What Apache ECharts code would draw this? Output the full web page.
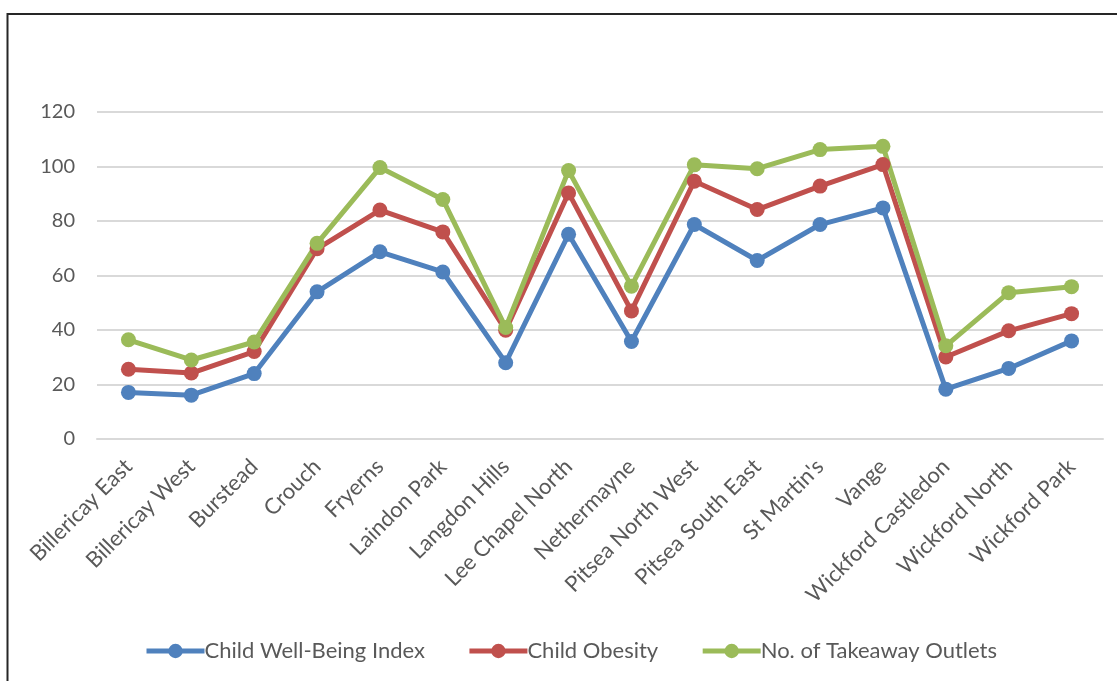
<!DOCTYPE html>
<html>
<head>
<meta charset="utf-8">
<script src="https://cdn.jsdelivr.net/npm/echarts@6/dist/echarts.min.js"></script>
<style>
html,body{margin:0;padding:0;background:#fff;}
#chart{width:1117px;height:681px;}
</style>
</head>
<body>
<div id="chart"></div>
<script>
const categories = ["Billericay East","Billericay West","Burstead","Crouch","Fryerns","Laindon Park","Langdon Hills","Lee Chapel North","Nethermayne","Pitsea North West","Pitsea South East","St Martin's","Vange","Wickford Castledon","Wickford North","Wickford Park"];
const wellBeing = [17.1, 16.1, 24, 54, 68.7, 61.3, 28, 75.1, 35.8, 78.7, 65.5, 78.7, 84.8, 18.3, 25.9, 36];
const obesity = [25.6, 24.2, 32.1, 69.8, 84, 76, 39.9, 90.3, 47, 94.6, 84.2, 92.8, 100.7, 30.1, 39.7, 46];
const takeaway = [36.4, 29, 35.6, 71.8, 99.6, 87.9, 40.9, 98.5, 56.1, 100.6, 99.2, 106.2, 107.4, 34.2, 53.7, 55.9];
const seriesNames = ["Child Well-Being Index","Child Obesity","No. of Takeaway Outlets"];
const yTicks = {min:0, max:120, interval:20};

const colors = ['#4F81BD','#C0504D','#9BBB59'];
const font = 'Lato, "Open Sans", sans-serif';
const chart = echarts.init(document.getElementById('chart'));
function mk(name, data, c){
  return {name:name, type:'line', data:data, symbol:'circle', symbolSize:15,
    lineStyle:{width:5, color:c}, itemStyle:{color:c}, animation:false};
}
chart.setOption({
  animation:false,
  color: colors,
  graphic:[{type:'rect', shape:{x:7.5,y:14,width:1300,height:900}, style:{fill:'none', stroke:'#262626', lineWidth:2}, silent:true}],
  grid:{left:97, right:14, top:112, bottom:242, outerBoundsMode:'none'},
  legend:{bottom:14, left:139, itemWidth:58, itemHeight:18, itemGap:42,
    lineStyle:{width:5},
    textStyle:{color:'#595959', fontSize:22, fontFamily:font, padding:[0,0,0,-5]},
    data:seriesNames},
  xAxis:{type:'category', data:categories, boundaryGap:true,
    axisLine:{show:true, lineStyle:{color:'#D9D9D9', width:2}},
    axisTick:{show:false},
    axisLabel:{rotate:45, interval:0, margin:24, color:'#595959', fontSize:22, fontFamily:font}},
  yAxis:{type:'value', min:yTicks.min, max:yTicks.max, interval:yTicks.interval,
    axisLine:{show:false}, axisTick:{show:false},
    axisLabel:{color:'#595959', fontSize:20, fontFamily:font, margin:22},
    splitLine:{lineStyle:{color:'#D9D9D9', width:2}}},
  series:[mk(seriesNames[0], wellBeing, colors[0]), mk(seriesNames[1], obesity, colors[1]), mk(seriesNames[2], takeaway, colors[2])]
});
</script>
</body>
</html>
